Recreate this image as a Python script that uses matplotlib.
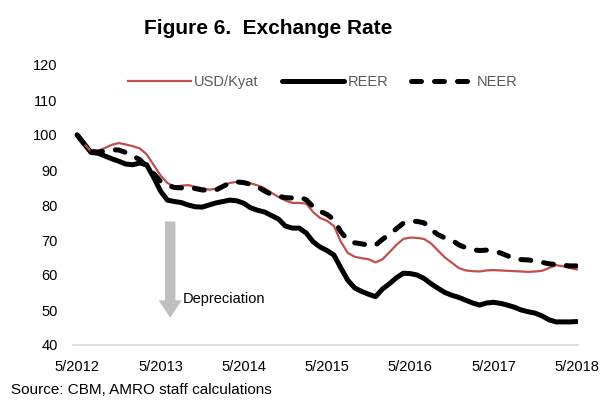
import numpy as np
import matplotlib
matplotlib.use("Agg")
import matplotlib.pyplot as plt

plt.rcParams['font.family'] = ['Liberation Sans', 'DejaVu Sans']

# monthly index values, 5/2012 .. 5/2018 (May 2012 = 100)
tick_labels = ["5/2012", "5/2013", "5/2014", "5/2015", "5/2016", "5/2017", "5/2018"]

usd_kyat = [100, 97.5, 95.3, 95.5, 96.3, 97.2, 97.7, 97.3, 96.8, 96.2,
            94.5, 91.5, 88.5, 86.3, 85.2, 85.5, 85.7, 85.2, 84.8, 84.4,
            84.6, 85.5, 86.3, 86.6, 86.6, 86.2, 85.6, 84.8, 83.5, 82.3,
            81.3, 80.6, 80.6, 80.4, 78.0, 76.3, 75.5, 74.0, 69.5, 66.3,
            65.2, 64.8, 64.5, 63.6, 64.5, 66.5, 68.6, 70.3, 70.7, 70.6,
            70.3, 69.0, 67.0, 65.0, 63.5, 62.0, 61.3, 61.1, 61.0, 61.3,
            61.4, 61.3, 61.2, 61.1, 61.0, 60.9, 61.0, 61.2, 62.0, 62.8,
            62.5, 62.0, 61.6]

reer = [100, 97.5, 95.0, 94.8, 94.0, 93.2, 92.5, 91.7, 91.5, 92.0,
        91.5, 88.0, 84.0, 81.4, 81.0, 80.7, 80.0, 79.5, 79.4, 80.0,
        80.6, 81.0, 81.4, 81.2, 80.5, 79.2, 78.5, 78.0, 77.0, 76.0,
        74.0, 73.4, 73.4, 72.0, 69.5, 68.0, 67.0, 65.7, 62.0, 58.5,
        56.3, 55.3, 54.5, 53.8, 56.0, 57.5, 59.2, 60.5, 60.4, 60.0,
        59.0, 57.5, 56.2, 55.0, 54.2, 53.6, 52.8, 52.0, 51.4, 52.0,
        52.2, 51.9, 51.4, 50.8, 50.0, 49.5, 49.1, 48.3, 47.2, 46.6,
        46.6, 46.6, 46.7]

neer = [100, 97.5, 95.3, 95.1, 95.4, 95.8, 95.7, 95.0, 94.0, 93.0,
        91.0, 89.0, 86.8, 85.7, 85.0, 84.9, 85.1, 84.7, 84.3, 84.2,
        84.3, 85.3, 86.3, 86.6, 86.4, 85.9, 85.2, 84.0, 83.0, 82.5,
        82.1, 82.0, 82.3, 81.5, 79.5, 78.2, 77.3, 75.8, 72.3, 70.0,
        69.2, 68.9, 68.5, 68.5, 70.2, 71.6, 73.2, 74.8, 75.4, 75.3,
        74.9, 73.0, 71.5, 70.6, 70.0, 68.6, 67.8, 67.2, 67.0, 67.1,
        66.8, 66.3, 65.5, 64.6, 64.4, 64.3, 64.0, 63.6, 63.2, 63.0,
        62.8, 62.6, 62.6]

months = np.arange(len(reer))

fig = plt.figure(figsize=(6.01, 4.0), dpi=100)
ax = fig.add_axes([0.1215, 0.1375, 0.8405, 0.70])

ax.plot(months, usd_kyat, color='#C0504D', lw=1.6, label='USD/Kyat', zorder=3)
ax.plot(months, reer, color='black', lw=3.6, solid_capstyle='round',
        solid_joinstyle='round', label='REER', zorder=2)
ax.plot(months, neer, color='black', lw=3.6, dashes=(2.0, 2.6),
        dash_capstyle='round', label='NEER', zorder=4)

ax.set_xlim(-0.6, 72.2)
ax.set_ylim(40, 120)
ax.set_yticks(range(40, 121, 10))
ax.set_xticks(range(0, 73, 12))
ax.set_xticklabels(tick_labels)
ax.tick_params(axis='both', length=0, labelsize=10.5, colors='black')
ax.tick_params(axis='y', pad=11)
ax.tick_params(axis='x', pad=11)
for s in ['top', 'right', 'left']:
    ax.spines[s].set_visible(False)
ax.spines['bottom'].set_color('#d9d9d9')
ax.spines['bottom'].set_linewidth(1.2)

# depreciation arrow
ax.annotate('', xy=(13.4, 47.8), xytext=(13.4, 75.3),
            arrowprops=dict(width=7.5, headwidth=16.5, headlength=12.5,
                            color='#bfbfbf', shrink=0, lw=0))
ax.text(15.2, 53.0, 'Depreciation', fontsize=10.5, ha='left', va='center')

leg = ax.legend(loc='upper center', bbox_to_anchor=(0.495, 1.01), ncol=3,
                frameon=False, fontsize=10.5, handlelength=4.3,
                handletextpad=0.2, columnspacing=1.6)
for t in leg.get_texts():
    t.set_color('#595959')

fig.text(0.446, 0.928, 'Figure 6.  Exchange Rate', ha='center', va='center',
         fontsize=15, fontweight='bold')
fig.text(0.018, 0.026, 'Source: CBM, AMRO staff calculations', ha='left',
         va='center', fontsize=11)

fig.savefig('out.png', dpi=100)
